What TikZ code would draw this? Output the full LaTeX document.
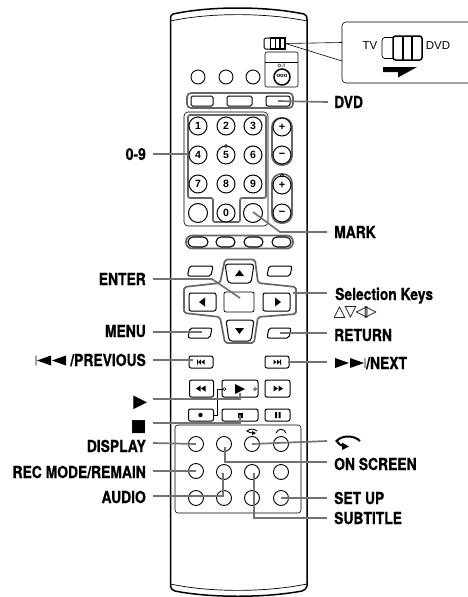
\documentclass[tikz,border=0pt]{standalone}
\usepackage{fontspec}
\setmainfont{TeX Gyre Heros}
\newfontfamily\lblfont[FakeStretch=0.84,FakeBold=0.7]{TeX Gyre Heros Bold}
\newfontfamily\symfont{DejaVu Sans}
\newfontfamily\plainfont{Liberation Sans}
\tikzset{
  lbl/.style={inner sep=0pt,font=\lblfont\fontsize{16.5}{16.5}\selectfont,text=black,text height=12pt,text depth=0pt},
  lead/.style={draw=black!55,line width=1.7pt},
  btn/.style={draw=black,line width=1pt,fill=white},
  thin/.style={draw=black,line width=0.6pt},
  grp/.style={draw=black!60,line width=1.7pt},
  rnd/.style={circle,draw=black,line width=0.9pt,fill=white,inner sep=0pt,minimum size=#1},
  rnd/.default=15pt,
  num/.style={rnd=18pt,line width=1pt,font=\plainfont\bfseries\fontsize{10.5}{10.5}\selectfont},
  rbox/.style={rectangle,draw=black,line width=1pt,fill=white,rounded corners=2pt,inner sep=0pt,minimum width=#1,minimum height=12pt},
  glyph/.style={fill=black,draw=none}
}
\newcommand{\slantbtn}[5]{\draw[btn,rounded corners=2pt] (#2+2,#3)--(#4,#3)--(#4-2,#5)--(#2,#5)--cycle; \coordinate (#1) at ({(#2+#4)/2},{(#3+#5)/2});}
\begin{document}
\begin{tikzpicture}[x=1pt,y=-1pt]
\useasboundingbox (0,0) rectangle (467,597);
% body
\draw[line width=1.5pt,line join=round] (170.5,20) -- (170.5,586) .. controls (171,589) and (172,590) .. (175,591) .. controls (210,598) and (265,598) .. (302,591) .. controls (305,590) and (306,589) .. (307,586) -- (307,20) .. controls (307,16) and (306,15) .. (304,14) .. controls (265,6) and (210,6) .. (173,14) .. controls (171,15) and (170.5,16) .. (170.5,20);
\draw[line width=0.7pt] (170.5,21) .. controls (210,12.5) and (265,12.5) .. (307,21);
\draw[line width=0.7pt] (170.5,584) .. controls (210,592.5) and (265,592.5) .. (307,584);
% slide switch
\node[rectangle,draw=black,line width=1pt,rounded corners=1.5pt,minimum width=21pt,minimum height=11pt,inner sep=0pt] (sw) at (274.5,43.5) {};
\draw[line width=1.4pt] (270.5,38)--(285,38)--(285,49)--(270.5,49)--cycle (275.5,38)--(275.5,49) (280,38)--(280,49);
% callout
\draw[thin,fill=white,rounded corners=4pt] (470,22)--(342,22)--(342,83)--(470,83);
\coordinate (cA) at (342,42.5);\coordinate (cB) at (342,61);
\draw[thin] (sw.east)--(cA) (sw.east)--(cB);
\fill[white] (342.5,43)rectangle(344,60.5);
\node[inner sep=0pt,font=\plainfont\fontsize{11.5}{11.5}\selectfont] (tv) at (370,46) {TV};
\node[inner sep=0pt,font=\plainfont\fontsize{11.5}{11.5}\selectfont] (dvdt) at (438,46) {DVD};
\draw[line width=0.7pt,rounded corners=3pt] (394,37.5)--(382,37.5)--(382,58.5)--(394,58.5);
\draw[line width=1.5pt,rounded corners=2.5pt] (393,36)--(422,36)--(422,60)--(393,60)--cycle;
\draw[line width=1.3pt] (403,36)--(403,60) (412,36)--(412,60);
\fill (383,67)--(417,67)--(398,77.5)--(398,72)--(383,72)--cycle;
% top circles
\node[rnd=14pt] (c1) at (198,77) {};
\node[rnd=14pt] (c2) at (226,77) {};
\node[rnd=14pt] (c3) at (253,77) {};
\draw[thin,rounded corners=2pt] (265,52) rectangle (298,87);
\draw[thin] (265,62)--(298,62);
\node[inner sep=0pt,font=\plainfont\fontsize{5}{5}\selectfont] (pw) at (284,65.5) {/I};
\draw[line width=0.4pt] (279.5,65.5) circle (1.6pt);
\node[rnd=16pt,line width=1.5pt] (pow) at (282,77) {};
\node[inner sep=0pt,font=\plainfont\bfseries\fontsize{6}{6}\selectfont] (pow2) at (282,76) {ooo};
% mode row
\draw[grp,rounded corners=4pt] (187,93) rectangle (293,108);
\draw[btn,rounded corners=1.5pt] (191,96) rectangle (213,106);
\draw[btn,rounded corners=1.5pt] (227,96) rectangle (252,106);
\node[rbox=24pt,minimum height=10pt] (bDVD) at (278,101) {};
% number group
\draw[thin,rounded corners=4pt] (184,112) -- (268,112) -- (268,226) -- (184,226) -- cycle;
\draw[grp,rounded corners=2pt] (188,115) -- (266,115) -- (266,198) -- (240,198) -- (240,222) -- (213,222) -- (213,198) -- (188,198) -- cycle;
\foreach \n/\t/\x/\y in {n1/1/198/126,n2/2/226/126,n3/3/253/126,n4/4/198/155,n5/5/226/155,n6/6/253/155,n7/7/198/184,n8/8/226/184,n9/9/253/184,n0/0/226/213}{
  \node[num] (\n) at (\x,\y) {\t};
}
\node[rnd=19pt,line width=1pt] (nL) at (198,213) {};
\node[rnd=19pt,line width=1pt] (nR) at (253,213) {};
\draw[line width=0.6pt,fill=white] (226,146) circle (1.4pt);
% volume pills
\draw[grp,rounded corners=9pt] (272,118) rectangle (292,165);
\draw[grp,rounded corners=9pt] (272,174) rectangle (292,223);
\foreach \n/\t/\y in {pA/+/127,pB/−/155,pC/+/185,pD/−/213}{
  \node[rnd=18pt,line width=1pt,font=\plainfont\bfseries\fontsize{11}{11}\selectfont] (\n) at (282,\y) {\t};
}
\draw[line width=0.6pt,fill=white] (282,175.5) circle (1.4pt);
% colour row
\draw[grp,rounded corners=6pt] (186,235.5) rectangle (293,248.5);
\foreach \n/\x/\w in {e1/198/20,e2/225.5/19,e3/253.5/19,e4/281.5/19}{
  \node[rectangle,rounded corners=5pt,draw=black,line width=1.1pt,fill=white,minimum width=\w pt,minimum height=10pt,inner sep=0pt] (\n) at (\x,242) {};
}
% dpad
\draw[grp,rounded corners=2pt] (225,259.5)--(255,259.5)--(258,283)--(296,287)--(296,314)--(258,317)--(254,343)--(225,343)--(220,317)--(184,313)--(184,287)--(220,283)--cycle;
\draw[btn,rounded corners=3pt] (225,264)--(254,264)--(251,283)--(228,283)--cycle;
\draw[btn,rounded corners=3pt] (226,320)--(254,320)--(251,341)--(229,341)--cycle;
\draw[btn,rounded corners=2pt] (189,293)--(216,293)--(216,311)--(189,311)--cycle;
\draw[btn,rounded corners=2pt] (263,293)--(290,293)--(290,311)--(263,311)--cycle;
\draw[btn,line width=0.8pt,rounded corners=2pt] (224,292) rectangle (254,312);
\coordinate (bCenter) at (240,298);
\coordinate (bRight) at (293,293);
\fill (239.5,270)--(235,276)--(244,276)--cycle;
\fill (239.5,334)--(235,328)--(244,328)--cycle;
\fill (199,302)--(205,297.5)--(205,306.5)--cycle;
\fill (281,302)--(275,297.5)--(275,306.5)--cycle;
\slantbtn{bTL}{187.5}{266}{213}{276}
\slantbtn{bTR}{267}{266}{292}{276}
\slantbtn{bMenu}{188}{328}{212}{338}
\slantbtn{bRet}{267}{328}{291}{338}
% skip buttons
\node[rbox=24pt] (bPrev) at (201,362) {};
\node[rbox=24pt] (bNext) at (277,362) {};
\fill (197,359.5) rectangle (197.8,364.5) (198,362)--(201,359.5)--(201,364.5)--cycle (201.5,362)--(204.5,359.5)--(204.5,364.5)--cycle;
\fill (281,359.5) rectangle (280.2,364.5) (280,362)--(277,359.5)--(277,364.5)--cycle (276.5,362)--(273.5,359.5)--(273.5,364.5)--cycle;
% transport
\node[rbox=24pt,minimum height=17pt] (bRew) at (201.5,388.5) {};
\node[rbox=36pt,minimum height=17pt] (bPlay) at (240,388.5) {};
\node[rbox=25pt,minimum height=17pt] (bFF) at (277.5,388.5) {};
\fill (196,388.5)--(200.5,385.5)--(200.5,391.5)--cycle (201,388.5)--(205.5,385.5)--(205.5,391.5)--cycle;
\fill (283,388.5)--(278.5,385.5)--(278.5,391.5)--cycle (278,388.5)--(273.5,385.5)--(273.5,391.5)--cycle;
\fill (235,384)--(245,389)--(235,394)--cycle;
\draw[line width=0.5pt,fill=white] (224.5,389) circle (1.4pt) (255,389) circle (1.4pt);
\node[rbox=25pt] (bRec) at (201,415) {};
\node[rbox=36pt] (bStop) at (240,415) {};
\node[rbox=25pt] (bPause) at (277.5,415) {};
\fill (200.5,415) circle (2.2pt);
\fill (237.5,412.5) rectangle (242.5,417.5);
\fill (275,412) rectangle (277,418) (278.5,412) rectangle (280.5,418);
\draw[line width=0.6pt] (223,389)--(217,389)--(217,415)--(214,415);
% panel
\draw[thin,rounded corners=3pt] (175,425) rectangle (301,513);
\foreach \n/\x/\y in {r1/196/444,r2/224/444,r3/252/444,r4/281/444,s1/196/471,s2/224/472,s3/252/472,s4/281/472,t1/196/498,t2/224/498,t3/252/498,t4/281/498}{
  \node[rnd=15pt] (\n) at (\x,\y) {};
}
\draw[line width=0.9pt] (257,431) .. controls (254,428.5) and (250,428.5) .. (247,431) .. controls (249,432.5) and (251,433) .. (253,433);
\fill (256,433)--(252,431)--(252,435)--cycle;
\draw[line width=0.9pt] (276,433) .. controls (278,428) and (284,428) .. (286,433);
% leaders start / end points
\foreach \n/\x/\y in {sA/153/154,sB/153/279,sC/153/332,sD/153/360,sE/153/399,sF/153/423,sG/153/443,sH/153/471,sI/153/496,
  eA/188/154,eB/212/279,eC/202/332,eD/193/360,eE/240/399,eF/240/423,
  tA/328/102,tB/327/232,tC/327/293,tD/327/333,tE/327/362,tF/327/441,tG/327/462,tH/327/498,tI/327/518,
  uA/253/212,uB/280/232,uC/225/447,uD/225/462,uE/254/473,uF/254/518,uG/223/473,uH/223/496,uI/240/393,uJ/240/415,uK/280/333,uL/288/362}{
  \coordinate (\n) at (\x,\y);
}
% left leaders
\draw[lead] (sA)--(eA);
\draw[lead] (sB)--(eB)--(bCenter);
\draw[lead] (sC)--(eC);
\draw[lead] (sD)--(eD);
\draw[lead] (sE)--(eE)--(uI);
\draw[lead] (sF)--(eF)--(uJ);
\draw[lead] (sG)--(r1.center);
\draw[lead] (sH)--(s1.center);
\draw[lead] (sI)--(uH)--(uG);
% right leaders
\draw[lead] (bDVD.center)--(tA);
\draw[lead] (uA)--(uB)--(tB);
\draw[lead] (bRight)--(tC);
\draw[lead] (uK)--(tD);
\draw[lead] (uL)--(tE);
\draw[lead] (r3.center)--(tF);
\draw[lead] (uC)--(uD)--(tG);
\draw[lead] (t4.center)--(tH);
\draw[lead] (uE)--(uF)--(tI);
% left labels
\node[lbl,anchor=east] (l0) at (146,154) {0-9};
\node[lbl,anchor=east] (lEnter) at (146,279) {ENTER};
\node[lbl,anchor=east] (lMenu) at (146,331) {MENU};
\node[lbl,anchor=east] (lPrev) at (146,360) {/PREVIOUS};
\fill (35.5,355.5) rectangle (36.3,365.5) (37,360.5)--(51,355.5)--(51,365.5)--cycle (52,360.5)--(66,355.5)--(66,365.5)--cycle;
\node[lbl,anchor=east,font=\symfont\fontsize{18}{18}\selectfont] (lPlay) at (147.5,401.5) {▶};
\node[lbl,anchor=east,font=\symfont\fontsize{17}{17}\selectfont] (lStop) at (147,425) {■};
\node[lbl,anchor=east] (lDisp) at (146,446) {DISPLAY};
\node[lbl,anchor=east] (lRec) at (146,472) {REC MODE/REMAIN};
\node[lbl,anchor=east] (lAud) at (146,497) {AUDIO};
% right labels
\node[lbl,anchor=west] (rDVD) at (334,102) {DVD};
\node[lbl,anchor=west] (rMark) at (334,232) {MARK};
\node[lbl,anchor=west] (rSel) at (335,294) {Selection Keys};
\node[inner sep=0pt,anchor=west,font=\symfont\fontsize{15.5}{15.5}\selectfont] (rTri) at (333.5,312) {△\kern-1pt▽\kern-1pt◁\kern-2.5pt▷};
\node[lbl,anchor=west] (rRet) at (334,335) {RETURN};
\node[lbl,anchor=west] (rNext) at (366,363) {/NEXT};
\fill (335,358)--(349,363)--(335,368)--cycle (350,358)--(364,363)--(350,368)--cycle (364.5,358) rectangle (365.3,368);
\node[lbl,anchor=west] (rOn) at (334,464) {ON SCREEN};
\node[lbl,anchor=west] (rSet) at (334,498) {SET UP};
\node[lbl,anchor=west] (rSub) at (334,518) {SUBTITLE};
% return symbol
\draw[line width=2pt] (360,441) .. controls (354,435) and (342,435) .. (336.5,441) .. controls (338,444) and (341,445.5) .. (344,446);
\fill (349,446.5)--(342,442.5)--(342,450)--cycle;
\end{tikzpicture}
\end{document}
